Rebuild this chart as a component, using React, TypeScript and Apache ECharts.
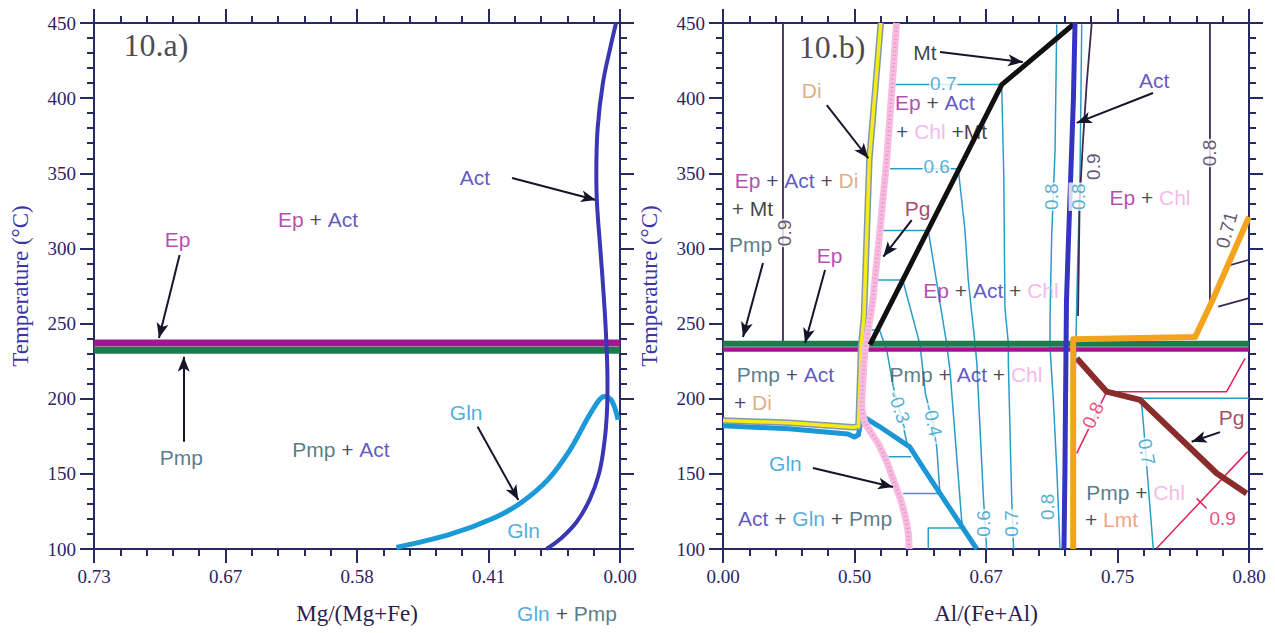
import React, { useEffect, useRef } from 'react';
import * as echarts from 'echarts';

// ---------- tick labels ----------
const leftXLabels = ['0.73', '0.67', '0.58', '0.41', '0.00'];
const rightXLabels = ['0.00', '0.50', '0.67', '0.75', '0.80'];

// ---------- panel 10.a ----------
const aEpBand = [[0, 237], [4, 237]];
const aPmpBand = [[0, 232.2], [4, 232.2]];
const aAct = [[3.97, 450], [3.93, 435], [3.87, 410], [3.83, 380], [3.82, 350], [3.825, 330], [3.85, 300], [3.875, 270], [3.895, 240], [3.905, 210], [3.9, 190], [3.88, 170], [3.84, 150], [3.77, 133], [3.67, 118], [3.55, 107], [3.44, 100]];
const aGln = [[2.3, 101], [2.7, 109.5], [3.05, 121], [3.25, 131], [3.45, 146], [3.62, 166], [3.76, 188], [3.84, 199], [3.88, 201.5], [3.93, 199.5], [3.96, 194], [3.985, 186]];

// ---------- panel 10.b ----------
const bPmpBand = [[0, 236.6], [4, 236.6]];
const bEpBand = [[0, 232.7], [4, 232.7]];
const bDi = [[0, 185.5], [0.5, 184], [0.99, 181], [1.03, 181.5], [1.045, 220], [1.05, 235], [1.072, 255], [1.113, 359], [1.2, 450]];
const bGln = [[0, 182], [0.5, 180], [0.95, 176.5], [1.0, 174.5], [1.03, 176], [1.05, 186], [1.067, 188], [1.19, 181.5], [1.42, 168], [1.53, 153], [1.65, 137], [1.93, 100]];
const bPgPink = [[1.32, 450], [1.245, 359], [1.14, 266], [1.08, 232], [1.055, 195], [1.08, 184], [1.18, 170], [1.25, 157], [1.3, 145], [1.35, 133], [1.39, 120], [1.41, 110], [1.415, 100]];
const bMt = [[1.118, 236], [2.12, 409], [2.664, 449]];
const bAct = [[2.677, 450], [2.665, 400], [2.645, 350], [2.625, 300], [2.612, 265], [2.605, 200], [2.6, 150], [2.593, 100]];
const bLmt = [[2.663, 100], [2.663, 239.5], [3.59, 241], [3.72, 265], [4.0, 321]];
const bPgRed = [[2.69, 227], [2.918, 204.7], [3.171, 199.2], [3.754, 150.4], [3.982, 137]];

const bTealA = [[1.13, 245.7], [1.19, 245.7], [1.245, 232.4], [1.295, 208], [1.35, 190], [1.4, 170]];
const bTealA2 = [[1.26, 161.4], [1.43, 161.4]];
const bTealB = [[1.17, 279], [1.367, 279], [1.498, 236], [1.54, 203], [1.6, 183], [1.625, 168], [1.65, 137]];
const bTealB2 = [[1.37, 137], [1.65, 137]];
const bTealC = [[1.219, 312], [1.561, 312], [1.7, 237], [1.726, 219], [1.815, 119], [1.827, 114], [1.561, 114], [1.561, 100]];
const bTealD = [[1.27, 353], [1.789, 353], [1.84, 312], [1.865, 279], [1.916, 237], [1.93, 224], [1.98, 135], [2.005, 100]];
const bTealE = [[1.308, 409], [2.119, 409], [2.135, 350], [2.144, 260], [2.17, 237], [2.17, 224], [2.195, 135], [2.21, 100]];
const bTeal08L = [[2.538, 449], [2.525, 365], [2.5, 310], [2.487, 255], [2.487, 234], [2.512, 199], [2.54, 150], [2.563, 100]];
const bTeal08Step = [[2.487, 233.7], [2.6, 233.7]];
const bTeal08R = [[2.728, 449], [2.715, 350], [2.69, 265], [2.675, 200], [2.665, 100]];
const bTeal07 = [[4.0, 200.3], [3.18, 200.3], [3.2, 180], [3.272, 100]];

const bDark09L = [[0.456, 450], [0.456, 236]];
const bDark09R = [[2.804, 450], [2.766, 410], [2.735, 368], [2.712, 330], [2.7, 255]];
const bDark08 = [[3.703, 450], [3.703, 265]];
const bDark071a = [[3.766, 261.3], [3.994, 266.8]];
const bDark071b = [[3.817, 287.9], [3.994, 292.3]];

const bRed08 = [[2.69, 163.6], [2.918, 204.7], [3.83, 204.7], [3.97, 226.8]];
const bRed09 = [[3.298, 100.5], [3.99, 164.8]];
const bRed09Tick = [[3.602, 133.7], [3.678, 127]];

// ---------- annotations: [x, T, text] ----------
const aLabels = [
  [2.897, 347, '{act|Act}'],
  [1.704, 319, '{ep|Ep} {k|+} {act|Act}'],
  [0.635, 306, '{ep|Ep}'],
  [0.665, 161, '{pmp|Pmp}'],
  [1.878, 166, '{pmp|Pmp} {k|+} {act|Act}'],
  [2.83, 191, '{gln|Gln}'],
  [3.266, 112.6, '{gln|Gln}'],
  [3.597, 57.4, '{gln|Gln} {k|+} {pmp|Pmp}'],
];
const aArrows = [
  [3.179, 346.9, 3.817, 332.2],
  [0.651, 295.6, 0.494, 240.4],
  [0.682, 171.4, 0.682, 228],
  [2.917, 181.4, 3.227, 132.6],
  [3.569, 69.4, 3.848, 120.4],
];
const bLabels = [
  [1.536, 430.7, '{mt|Mt}'],
  [0.675, 405.4, '{di|Di}'],
  [0.559, 345.5, '{ep|Ep} {k|+} {act|Act} {k|+} {di|Di}'],
  [0.224, 326.9, '{k|+} {mt|Mt}'],
  [0.209, 302.3, '{pmp|Pmp}'],
  [0.81, 295.6, '{ep|Ep}'],
  [1.479, 326.9, '{pg|Pg}'],
  [1.612, 396.8, '{ep|Ep} {k|+} {act|Act}'],
  [1.662, 377.5, '{k|+} {chl|Chl} {mt|+Mt}'],
  [3.278, 412, '{act|Act}'],
  [3.247, 333.6, '{ep|Ep} {k|+} {chl|Chl}'],
  [2.038, 271.7, '{ep|Ep} {k|+} {act|Act} {k|+} {chl|Chl}'],
  [1.848, 215.8, '{pmp|Pmp} {k|+} {act|Act} {k|+} {chl|Chl}'],
  [0.475, 215.8, '{pmp|Pmp} {k|+} {act|Act}'],
  [0.228, 197.2, '{k|+} {di|Di}'],
  [0.475, 157.2, '{gln|Gln}'],
  [0.7, 120.6, '{act|Act} {k|+} {gln|Gln} {k|+} {pmp|Pmp}'],
  [3.137, 137.3, '{pmp|Pmp} {k|+} {chl|Chl}'],
  [2.954, 119.3, '{k|+} {lmt|Lmt}'],
  [3.867, 187.8, '{pg|Pg}'],
];
const bArrows = [
  [1.65, 430.7, 2.281, 424],
  [0.789, 395.4, 1.105, 360],
  [0.304, 290.3, 0.152, 241.1],
  [0.776, 285.6, 0.624, 237],
  [1.435, 318.9, 1.219, 294.5],
  [3.27, 403.4, 2.69, 383.5],
  [0.684, 153.9, 1.293, 141.3],
  [3.78, 177.8, 3.564, 171.4],
];
// contour labels: [x, T, text, colourKey, rotate]
const bContourLabels = [
  [0.471, 310.3, '0.9', 'dark', 90],
  [1.675, 409.9, '0.7', 'teal', 0],
  [1.625, 354.4, '0.6', 'teal', 0],
  [2.5, 334.4, '0.8', 'teal', 90],
  [2.7, 334.4, '0.8', 'teal', 90],
  [2.814, 354.4, '0.9', 'dark', 90],
  [3.703, 363.5, '0.8', 'dark', 90],
  [3.83, 312.3, '0.71', 'dark', 75],
  [1.346, 192.5, '-0.3-', 'teal', -72],
  [1.6, 183.6, '-0.4-', 'teal', -78],
  [1.98, 117, '0.6', 'teal', 90],
  [2.195, 117, '0.7', 'teal', 90],
  [2.464, 128, '0.8', 'teal', 90],
  [2.814, 189, '0.8', 'red', 65],
  [3.222, 164.7, '0.7', 'teal', -80],
  [3.8, 120.6, '0.9', 'red', 0],
];

// ---------- styles ----------
const AX = '#262a60';
const TICK_TXT = '#2d2466';
const SANS = 'Liberation Sans';
const SERIF = 'Liberation Serif';
const COL: Record<string, string> = {
  ep: '#a21d9c', act: '#3b2db4', pmp: '#2d5a6c', gln: '#1f97d6', k: '#1b1b2e',
  chl: '#f0a8e4', di: '#d49a6a', pg: '#8e1c3e', lmt: '#f08a68', mt: '#111111',
  teal: '#2a9cc8', red: '#e2235a', dark: '#3a2a50',
};
const LABEL_SIZE = 21;
const rich: Record<string, any> = {};
Object.keys(COL).forEach((k) => {
  rich[k] = { color: COL[k], fontSize: LABEL_SIZE, fontFamily: SANS };
});

const tickStyle = { show: true, inside: false, length: 14, lineStyle: { color: AX, width: 2 } };
const minorStyle = { show: true, splitNumber: 5, length: 7, lineStyle: { color: AX, width: 2 } };

function xAxisDef(grid: number, labels: string[], name: string, pos: string) {
  const bottom = pos === 'bottom';
  return {
    type: 'value', gridIndex: grid, min: 0, max: 4, interval: 1, position: pos,
    name: bottom ? name : '', nameLocation: 'middle', nameGap: 53,
    nameTextStyle: { fontFamily: SERIF, fontSize: 23, color: '#2a2050' },
    axisLine: { show: true, onZero: false, lineStyle: { color: AX, width: 2 } },
    axisTick: tickStyle,
    minorTick: minorStyle,
    axisLabel: {
      show: bottom, margin: 18, fontFamily: SERIF, fontSize: 19, color: TICK_TXT,
      formatter: (v: number) => labels[Math.round(v)] ?? '',
    },
    splitLine: { show: false }, minorSplitLine: { show: false },
  };
}
function yAxisDef(grid: number, pos: string) {
  const left = pos === 'left';
  return {
    type: 'value', gridIndex: grid, min: 100, max: 450, interval: 50, position: pos,
    name: left ? 'Temperature (°C)' : '', nameLocation: 'middle', nameGap: 62, nameRotate: 90,
    nameTextStyle: { fontFamily: SERIF, fontSize: 23, color: '#3a34a6' },
    axisLine: { show: true, onZero: false, lineStyle: { color: AX, width: 2 } },
    axisTick: tickStyle,
    minorTick: minorStyle,
    axisLabel: { show: left, margin: 18, fontFamily: SERIF, fontSize: 19, color: TICK_TXT },
    splitLine: { show: false }, minorSplitLine: { show: false },
  };
}

function ln(data: number[][], ax: number, color: string, width: number, z: number, extra: any = {}) {
  return {
    type: 'line', data, xAxisIndex: ax, yAxisIndex: ax, showSymbol: false, symbol: 'none',
    silent: true, z, lineStyle: { color, width, cap: 'butt', join: 'round', ...(extra.lineStyle || {}) },
    smooth: extra.smooth || false,
  };
}

function labelSeries(ax: number, labels: any[], arrows: number[][]) {
  return {
    type: 'scatter', xAxisIndex: ax, yAxisIndex: ax, symbolSize: 1, clip: false, silent: true, z: 20,
    itemStyle: { color: 'rgba(0,0,0,0)' },
    data: labels.map(([x, y, t]) => ({ value: [x, y], label: { formatter: t } })),
    label: { show: true, position: 'inside', fontFamily: SANS, fontSize: LABEL_SIZE, color: COL.k, rich },
    markLine: {
      silent: true, symbol: ['none', 'arrow'], symbolSize: [9, 15], animation: false,
      lineStyle: { color: '#15152a', width: 2, type: 'solid' }, label: { show: false },
      data: arrows.map(([x1, y1, x2, y2]) => [{ coord: [x1, y1] }, { coord: [x2, y2] }]),
    },
  };
}

export default function App() {
  const ref = useRef<HTMLDivElement>(null);
  useEffect(() => {
    if (!ref.current) return;
    const chart = echarts.init(ref.current, undefined, { renderer: 'svg' });
    const series: any[] = [
      // panel a
      ln(aEpBand, 0, '#a0178f', 7, 3),
      ln(aPmpBand, 0, '#1f7a4e', 7, 3),
      ln(aGln, 0, '#1c9ad8', 5, 4, { smooth: 0.3 }),
      ln(aAct, 0, '#3a36b4', 4, 5, { smooth: 0.4 }),
      labelSeries(0, aLabels, aArrows),
      {
        type: 'scatter', xAxisIndex: 0, yAxisIndex: 0, symbolSize: 1, silent: true, z: 20,
        itemStyle: { color: 'rgba(0,0,0,0)' }, data: [[0.471, 435.4]],
        label: { show: true, position: 'inside', formatter: '10.a)', fontFamily: SERIF, fontSize: 32, color: '#1a1a2a' },
      },
      // panel b thin contours
      ln(bTealA, 2, COL.teal, 1.5, 2), ln(bTealA2, 2, COL.teal, 1.5, 2),
      ln(bTealB, 2, COL.teal, 1.5, 2), ln(bTealB2, 2, COL.teal, 1.5, 2),
      ln(bTealC, 2, COL.teal, 1.5, 2), ln(bTealD, 2, COL.teal, 1.5, 2),
      ln(bTealE, 2, COL.teal, 1.5, 2), ln(bTeal08L, 2, COL.teal, 1.5, 2),
      ln(bTeal08Step, 2, COL.teal, 1.5, 2), ln(bTeal08R, 2, COL.teal, 1.5, 2),
      ln(bTeal07, 2, COL.teal, 1.5, 2),
      ln(bDark09L, 2, COL.dark, 1.8, 2), ln(bDark09R, 2, COL.dark, 1.8, 2),
      ln(bDark08, 2, COL.dark, 1.8, 2), ln(bDark071a, 2, COL.dark, 1.8, 2), ln(bDark071b, 2, COL.dark, 1.8, 2),
      ln(bRed08, 2, COL.red, 1.5, 2), ln(bRed09, 2, COL.red, 1.5, 2), ln(bRed09Tick, 2, COL.red, 1.5, 2),
      // bands
      ln(bPmpBand, 2, '#1f7a4e', 6, 3),
      ln(bEpBand, 2, '#a0178f', 4.5, 3),
      // thick boundaries
      ln(bGln, 2, '#1c96d4', 5, 4),
      ln(bDi, 2, '#7f9aa8', 6.5, 4),
      ln(bDi, 2, '#f7ea1c', 3.5, 4),
      ln(bPgPink, 2, '#f7bde0', 7, 4, { smooth: 0.15 }),
      ln(bPgPink, 2, '#f08ccc', 3, 4, { smooth: 0.15, lineStyle: { type: [1, 3] } }),
      ln(bMt, 2, '#101010', 5, 4),
      ln(bPgRed, 2, '#8a2c2c', 6, 4),
      ln(bLmt, 2, '#f4a31e', 6, 5),
      ln(bAct, 2, '#3434c0', 5, 5),
      labelSeries(2, bLabels, bArrows),
      {
        type: 'scatter', xAxisIndex: 2, yAxisIndex: 2, symbolSize: 1, silent: true, z: 19,
        itemStyle: { color: 'rgba(0,0,0,0)' },
        data: bContourLabels.map(([x, y, t, c, r]: any) => ({
          value: [x, y],
          label: { formatter: t, color: COL[c], rotate: r },
        })),
        label: {
          show: true, position: 'inside', fontFamily: SANS, fontSize: 19,
          backgroundColor: '#ffffff', padding: [0, 1],
        },
      },
      {
        type: 'scatter', xAxisIndex: 2, yAxisIndex: 2, symbolSize: 1, silent: true, z: 20,
        itemStyle: { color: 'rgba(0,0,0,0)' }, data: [[0.829, 434]],
        label: { show: true, position: 'inside', formatter: '10.b)', fontFamily: SERIF, fontSize: 32, color: '#1a1a2a' },
      },
    ];
    chart.setOption({
      animation: false,
      backgroundColor: '#ffffff',
      grid: [
        { left: 94, top: 23, width: 526, height: 526 },
        { left: 723, top: 23, width: 526, height: 526 },
      ],
      xAxis: [
        xAxisDef(0, leftXLabels, 'Mg/(Mg+Fe)', 'bottom'),
        xAxisDef(0, leftXLabels, '', 'top'),
        xAxisDef(1, rightXLabels, 'Al/(Fe+Al)', 'bottom'),
        xAxisDef(1, rightXLabels, '', 'top'),
      ],
      yAxis: [
        yAxisDef(0, 'left'),
        yAxisDef(0, 'right'),
        yAxisDef(1, 'left'),
        yAxisDef(1, 'right'),
      ],
      series,
    });
    return () => chart.dispose();
  }, []);
  return <div ref={ref} style={{ position: 'absolute', left: 0, top: 0, width: 1275, height: 633 }} />;
}
